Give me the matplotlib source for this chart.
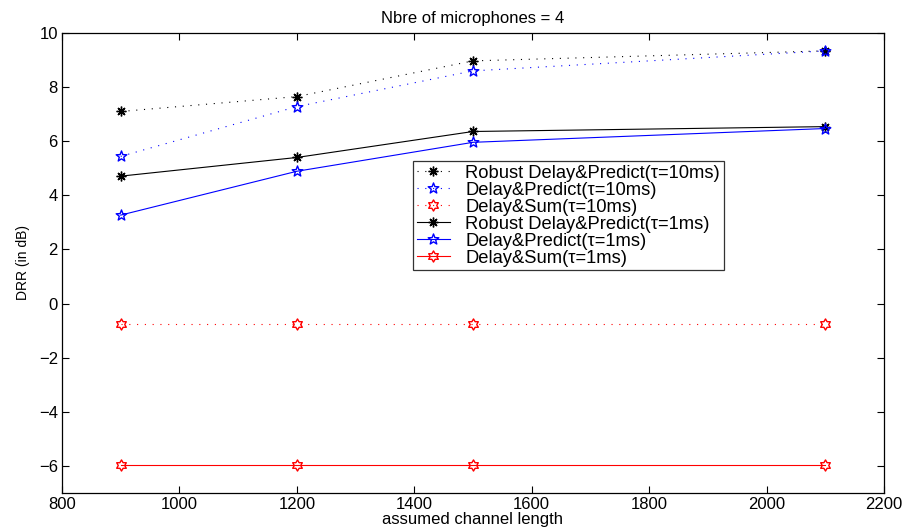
import numpy as np
import matplotlib
matplotlib.use("Agg")
import matplotlib.pyplot as plt
from matplotlib.path import Path

plt.rcParams['font.family'] = ['Liberation Sans', 'DejaVu Sans']

channel_length = [900, 1200, 1500, 2100]

robust_dp_10ms = [7.10, 7.65, 8.97, 9.34]
dp_10ms = [5.44, 7.28, 8.60, 9.34]
ds_10ms = [-0.77, -0.77, -0.77, -0.77]
robust_dp_1ms = [4.71, 5.40, 6.36, 6.54]
dp_1ms = [3.27, 4.89, 5.96, 6.47]
ds_1ms = [-5.96, -5.96, -5.96, -5.96]

labels = [
    "Robust Delay&Predict(\u03c4=10ms)",
    "Delay&Predict(\u03c4=10ms)",
    "Delay&Sum(\u03c4=10ms)",
    "Robust Delay&Predict(\u03c4=1ms)",
    "Delay&Predict(\u03c4=1ms)",
    "Delay&Sum(\u03c4=1ms)",
]

xticks = [800, 1000, 1200, 1400, 1600, 1800, 2000, 2200]
yticks = [-6, -4, -2, 0, 2, 4, 6, 8, 10]


def star_path(points, inner):
    n = 2 * points
    ang = np.pi / 2 + np.arange(n) * np.pi / points
    r = np.where(np.arange(n) % 2 == 0, 1.0, inner)
    verts = np.column_stack([r * np.cos(ang), r * np.sin(ang)])
    verts = np.vstack([verts, verts[:1]])
    codes = [Path.MOVETO] + [Path.LINETO] * (n - 1) + [Path.CLOSEPOLY]
    return Path(verts, codes)


pentagram = star_path(5, 0.42)
hexagram = star_path(6, 0.58)
asterisk = (8, 2, 0)
dotted = (0, (1, 6))

fig = plt.figure(figsize=(9.04, 5.29), dpi=100)
ax = fig.add_axes([62 / 904, 1 - 493 / 529, (884 - 62) / 904, (493 - 33) / 529])

series = [
    (robust_dp_10ms, 'k', dotted, asterisk, 7),
    (dp_10ms, 'b', dotted, pentagram, 8),
    (ds_10ms, 'r', dotted, hexagram, 8),
    (robust_dp_1ms, 'k', '-', asterisk, 7),
    (dp_1ms, 'b', '-', pentagram, 8),
    (ds_1ms, 'r', '-', hexagram, 8),
]

for (vals, c, ls, mk, ms), lab in zip(series, labels):
    ax.plot(channel_length, vals, color=c, linestyle=ls, linewidth=0.8,
            marker=mk, markersize=ms, markerfacecolor='none',
            markeredgecolor=c, markeredgewidth=1.0, label=lab)

ax.set_xlim(800, 2200)
ax.set_ylim(-7, 10)
ax.set_xticks(xticks)
ax.set_yticks(yticks)
ax.tick_params(direction='in', top=True, right=True, length=5, width=0.8,
               labelsize=12, pad=3)
for sp in ax.spines.values():
    sp.set_linewidth(0.9)

ax.set_title("Nbre of microphones = 4", fontsize=12, pad=7)
ax.set_xlabel("assumed channel length", fontsize=12, labelpad=0)
ax.set_ylabel("DRR (in dB)", fontsize=10, labelpad=6)

leg = ax.legend(loc='upper left', bbox_to_anchor=(0.427, 0.722),
                fontsize=13.2, frameon=True, fancybox=False, edgecolor='k',
                borderpad=0.2, labelspacing=0.0, handlelength=1.8,
                handletextpad=0.85, borderaxespad=0)
leg.get_frame().set_linewidth(0.9)

fig.savefig("out.png", dpi=100)
